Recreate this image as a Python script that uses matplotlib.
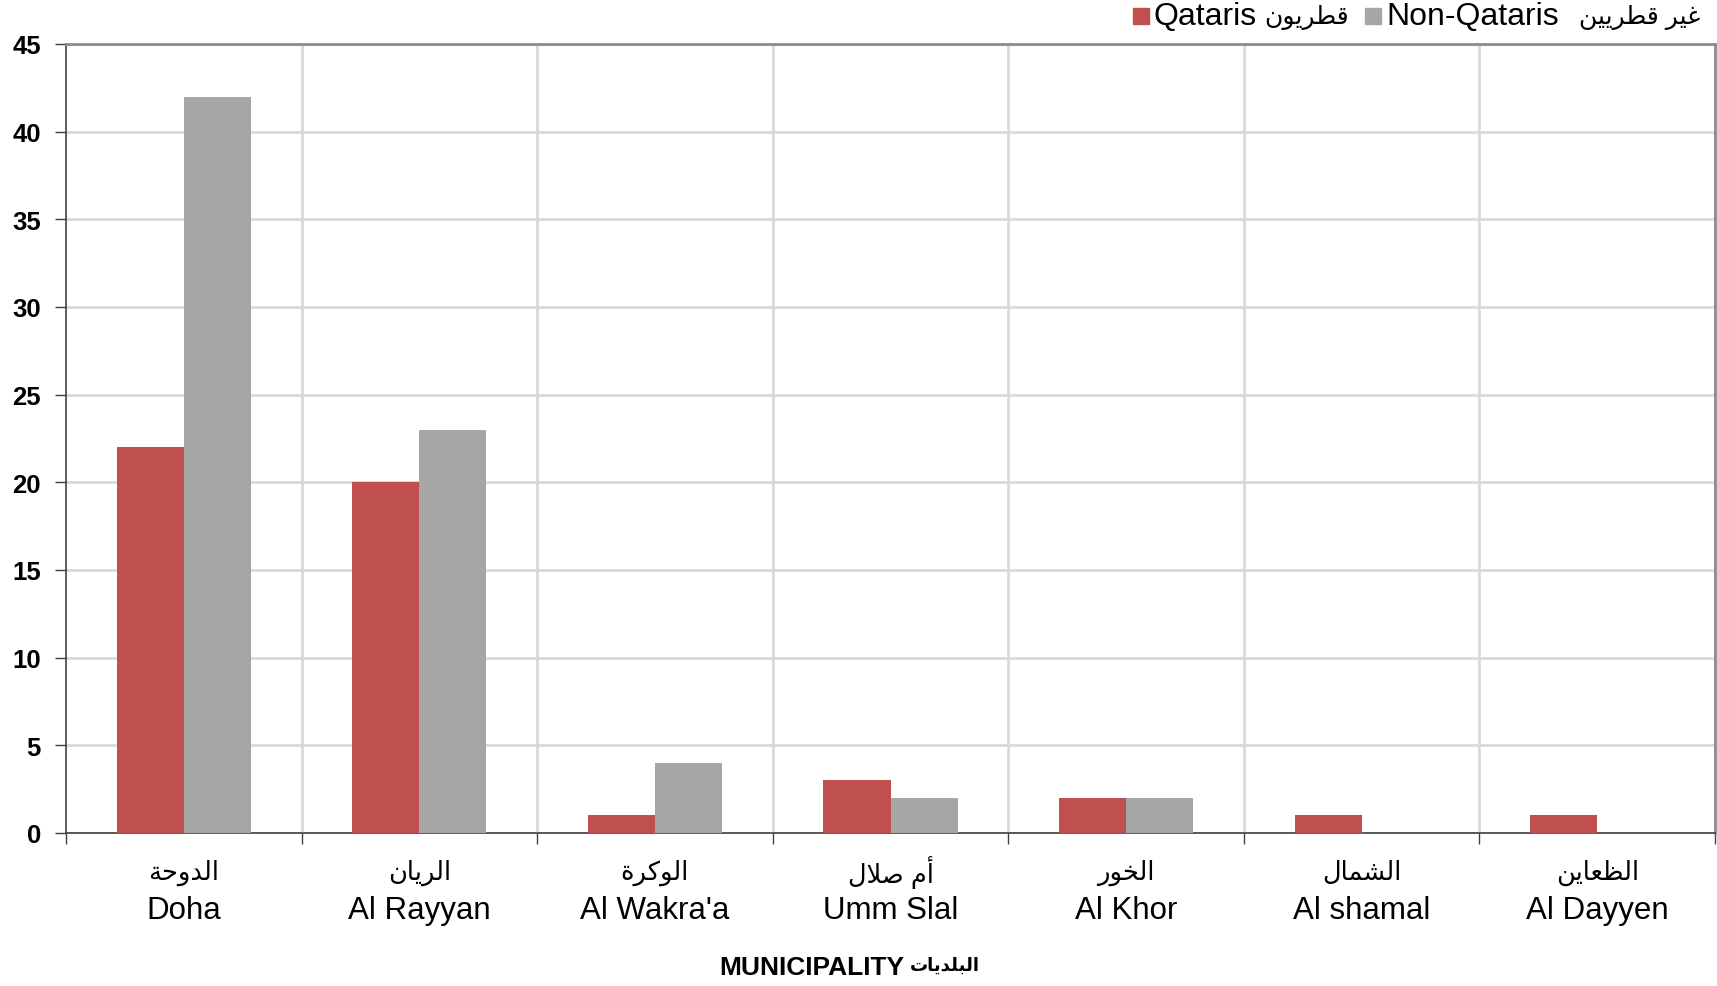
import matplotlib
matplotlib.use("Agg")
import matplotlib.pyplot as plt
from matplotlib.patches import Rectangle
import numpy as np

# data
municipalities_en = ["Doha", "Al Rayyan", "Al Wakra'a", "Umm Slal", "Al Khor", "Al shamal", "Al Dayyen"]
municipalities_ar = ["الدوحة", "الريان", "الوكرة", "أم صلال", "الخور", "الشمال", "الظعاين"]
qataris = [22, 20, 1, 3, 2, 1, 1]
non_qataris = [42, 23, 4, 2, 2, 0, 0]
y_ticks = [0, 5, 10, 15, 20, 25, 30, 35, 40, 45]

RED = "#C0504D"
GRAY = "#A6A6A6"
GRID = "#D9D9D9"
FONTS = ["Liberation Sans", "DejaVu Sans"]

# minimal arabic shaping (matplotlib has no bidi / joining support)
# letter -> (isolated presentation form, joins to the following letter)
ARABIC_FORMS = {
    "ا": (0xFE8D, False), "أ": (0xFE83, False), "د": (0xFEA9, False),
    "ر": (0xFEAD, False), "و": (0xFEED, False), "ة": (0xFE93, False),
    "ب": (0xFE8F, True), "ت": (0xFE95, True), "ح": (0xFEA1, True),
    "خ": (0xFEA5, True), "ش": (0xFEB5, True), "ص": (0xFEB9, True),
    "ط": (0xFEC1, True), "ظ": (0xFEC5, True), "ع": (0xFEC9, True),
    "غ": (0xFECD, True), "ق": (0xFED5, True), "ك": (0xFED9, True),
    "ل": (0xFEDD, True), "م": (0xFEE1, True), "ن": (0xFEE5, True),
    "ي": (0xFEF1, True),
}
LAM_ALEF = {"ا": 0xFEFB, "أ": 0xFEF7}


def shape_arabic(text):
    chars = list(text)
    out = []
    i = 0
    while i < len(chars):
        c = chars[i]
        if c not in ARABIC_FORMS:
            out.append(c)
            i += 1
            continue
        prev = chars[i - 1] if i > 0 else None
        joins_prev = prev in ARABIC_FORMS and ARABIC_FORMS[prev][1]
        nxt = chars[i + 1] if i + 1 < len(chars) else None
        if c == "ل" and nxt in LAM_ALEF:
            out.append(chr(LAM_ALEF[nxt] + (1 if joins_prev else 0)))
            i += 2
            continue
        base, dual = ARABIC_FORMS[c]
        joins_next = dual and nxt in ARABIC_FORMS
        if joins_prev and joins_next:
            form = base + 3
        elif joins_prev:
            form = base + 1
        elif joins_next:
            form = base + 2
        else:
            form = base
        out.append(chr(form))
        i += 1
    return "".join(out)[::-1]


W, H = 1717, 987
fig = plt.figure(figsize=(W / 100, H / 100), dpi=100)
ax = fig.add_axes([66 / W, 1 - 834 / H, 1649 / W, 789 / H])

x = np.arange(len(municipalities_en))
w = 0.285
ax.bar(x - w / 2, qataris, width=w, color=RED, zorder=3)
ax.bar(x + w / 2, non_qataris, width=w, color=GRAY, zorder=3)

ax.set_xlim(-0.5, len(x) - 0.5)
ax.set_ylim(0, 45)
ax.set_yticks(y_ticks)
ax.set_yticklabels([str(v) for v in y_ticks], fontsize=18.5, fontweight="bold", family=FONTS)
ax.tick_params(axis="y", length=8, width=1, color="#404040", pad=10)

bounds = np.arange(-0.5, len(x), 1.0)
ax.set_xticks(bounds)
ax.set_xticklabels([])
ax.tick_params(axis="x", length=8, width=1, color="#404040")

ax.grid(axis="y", color=GRID, linewidth=2, zorder=0)
for b in bounds[1:]:
    ax.axvline(b, color=GRID, linewidth=2, zorder=0)

for side in ["left", "bottom"]:
    ax.spines[side].set_color("#404040")
    ax.spines[side].set_linewidth(1.2)
for side in ["top", "right"]:
    ax.spines[side].set_color("#8C8C8C")
    ax.spines[side].set_linewidth(2)

tr = ax.get_xaxis_transform()
for i in x:
    ax.text(i, -0.049, shape_arabic(municipalities_ar[i]), transform=tr,
            ha="center", va="center", fontsize=18.5, family=FONTS)
    ax.text(i, -0.098, municipalities_en[i], transform=tr,
            ha="center", va="center", fontsize=22.5, family=FONTS)

# axis title: english and arabic parts sized separately
title_y = 0.019
fig.text(719 / W, title_y, "MUNICIPALITY", ha="left", va="center",
         fontsize=19, fontweight="bold", family=FONTS)
fig.text(980 / W, title_y + 2 / H, shape_arabic("البلديات"), ha="right", va="center",
         fontsize=13, fontweight="bold", family=FONTS)

# legend drawn by hand so that the arabic parts can be sized on their own
legend_y = 1 - 17 / H
for x0, color in [(1133, RED), (1365, GRAY)]:
    fig.patches.append(Rectangle((x0 / W, legend_y - 8 / H), 16 / W, 16 / H,
                                 transform=fig.transFigure, color=color))
fig.text(1153 / W, legend_y, "Qataris", ha="left", va="center", fontsize=23, family=FONTS)
fig.text(1349 / W, legend_y, shape_arabic("قطريون"), ha="right", va="center",
         fontsize=18, family=FONTS)
fig.text(1386 / W, legend_y, "Non-Qataris", ha="left", va="center", fontsize=23, family=FONTS)
fig.text(1700 / W, legend_y, shape_arabic("غير قطريين"), ha="right", va="center",
         fontsize=18, family=FONTS)

fig.savefig("out.png", dpi=100)
